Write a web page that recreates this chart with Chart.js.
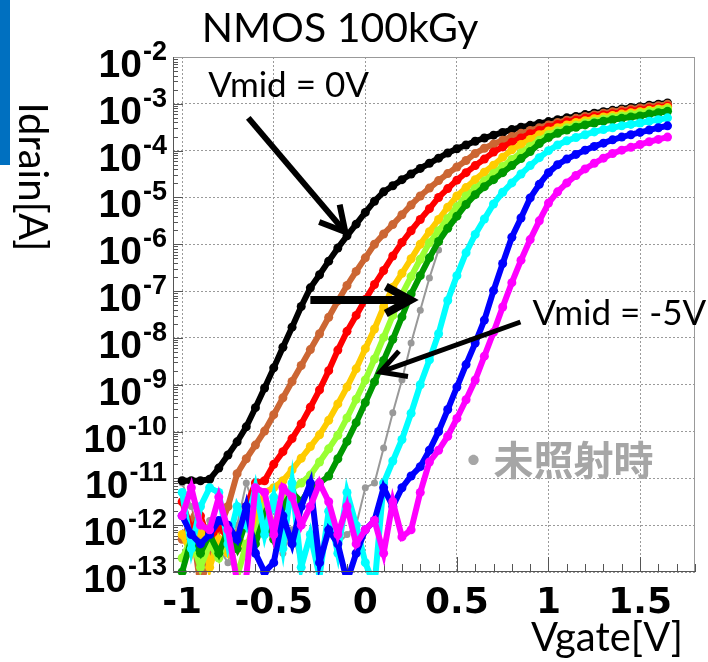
<!DOCTYPE html>
<html>
<head>
<meta charset="utf-8">
<script src="https://cdn.jsdelivr.net/npm/chart.js@4.4.1/dist/chart.umd.min.js"></script>
<style>
html,body{margin:0;padding:0;background:#fff;}
canvas{display:block;}
</style>
</head>
<body>
<canvas id="myChart" width="708" height="662"></canvas>
<script>
// Vgate [V]
var vgate = [-1, -0.95, -0.9, -0.85, -0.8, -0.75, -0.7, -0.65, -0.6, -0.55,
  -0.5, -0.45, -0.4, -0.35, -0.3, -0.25, -0.2, -0.15, -0.1, -0.05,
  0, 0.05, 0.1, 0.15, 0.2, 0.25, 0.3, 0.35, 0.4, 0.45,
  0.5, 0.55, 0.6, 0.65, 0.7, 0.75, 0.8, 0.85, 0.9, 0.95,
  1, 1.05, 1.1, 1.15, 1.2, 1.25, 1.3, 1.35, 1.4, 1.45,
  1.5, 1.55, 1.6, 1.65];

// log10(Idrain [A]), one curve per Vmid (0V ... -5V)
var logBlack = [-11.05, -11.05, -11.05, -11.02, -10.78, -10.50, -10.22, -9.90, -9.49, -9.07,
  -8.64, -8.20, -7.77, -7.33, -6.93, -6.65, -6.36, -6.08, -5.82, -5.57,
  -5.32, -5.08, -4.88, -4.75, -4.62, -4.50, -4.38, -4.27, -4.16, -4.05,
  -3.96, -3.88, -3.80, -3.73, -3.67, -3.61, -3.55, -3.50, -3.46, -3.42,
  -3.38, -3.34, -3.30, -3.27, -3.23, -3.20, -3.17, -3.14, -3.11, -3.08,
  -3.06, -3.03, -3.01, -2.98];
var logBrown = [-12.3, -11.9, -13.3, -12.6, -12.1, -11.6, -10.9, -10.58, -10.29, -9.99,
  -9.64, -9.28, -8.93, -8.59, -8.25, -7.91, -7.56, -7.21, -6.88, -6.58,
  -6.29, -6.00, -5.78, -5.58, -5.37, -5.16, -4.97, -4.80, -4.64, -4.49,
  -4.35, -4.21, -4.06, -3.95, -3.86, -3.78, -3.70, -3.63, -3.57, -3.51,
  -3.45, -3.40, -3.35, -3.31, -3.27, -3.24, -3.20, -3.17, -3.14, -3.11,
  -3.09, -3.06, -3.04, -3.01];
var logRed = [-11.5, -12.1, -11.8, -12.4, -12.0, -12.3, -12.5, -11.6, -11.1, -11.05,
  -10.70, -10.43, -10.15, -9.84, -9.48, -9.11, -8.70, -8.26, -7.86, -7.52,
  -7.18, -6.86, -6.56, -6.25, -5.96, -5.71, -5.47, -5.24, -5.00, -4.81,
  -4.63, -4.47, -4.32, -4.18, -4.03, -3.92, -3.82, -3.73, -3.64, -3.57,
  -3.50, -3.44, -3.39, -3.35, -3.31, -3.27, -3.24, -3.21, -3.18, -3.15,
  -3.13, -3.10, -3.08, -3.05];
var logOrange = [-12.2, -12.6, -12.0, -12.9, -12.3, -12.6, -12.2, -12.5, -11.9, -11.3,
  -11.2, -11.05, -10.82, -10.57, -10.32, -10.07, -9.76, -9.41, -9.05, -8.66,
  -8.23, -7.81, -7.34, -6.92, -6.62, -6.31, -6.00, -5.73, -5.47, -5.21,
  -4.97, -4.79, -4.62, -4.46, -4.31, -4.14, -3.98, -3.87, -3.76, -3.66,
  -3.58, -3.51, -3.45, -3.40, -3.36, -3.32, -3.28, -3.25, -3.22, -3.19,
  -3.17, -3.14, -3.11, -3.08];
var logLime = [-12.7, -12.3, -12.9, -12.4, -12.7, -12.2, -13.1, -12.4, -12.2, -11.6,
  -12.0, -11.4, -11.2, -11.1, -10.93, -10.65, -10.37, -10.08, -9.71, -9.31,
  -8.90, -8.45, -7.99, -7.52, -7.07, -6.69, -6.32, -5.97, -5.71, -5.45,
  -5.20, -4.97, -4.81, -4.65, -4.49, -4.34, -4.19, -4.05, -3.91, -3.78,
  -3.66, -3.58, -3.51, -3.46, -3.41, -3.37, -3.33, -3.29, -3.26, -3.23,
  -3.20, -3.17, -3.14, -3.11];
var logGreen = [-13.0, -12.3, -12.6, -12.2, -12.6, -12.1, -12.5, -11.9, -12.4, -11.8,
  -12.3, -11.6, -11.3, -11.5, -11.2, -11.1, -10.95, -10.58, -10.21, -9.81,
  -9.38, -8.94, -8.48, -8.03, -7.55, -7.06, -6.67, -6.29, -5.94, -5.66,
  -5.40, -5.15, -4.94, -4.77, -4.62, -4.47, -4.32, -4.17, -4.02, -3.85,
  -3.72, -3.63, -3.56, -3.50, -3.45, -3.41, -3.37, -3.34, -3.31, -3.28,
  -3.26, -3.22, -3.19, -3.16];
var logCyan = [-11.3, -12.5, -11.6, -11.2, -11.3, -12.4, -11.6, -12.0, -11.2, -12.2,
  -11.4, -12.5, -11.1, -12.9, -12.2, -13.1, -11.7, -12.6, -11.3, -12.0,
  -12.8, -13.3, -11.1, -10.63, -10.17, -9.61, -9.00, -8.47, -7.91, -7.20,
  -6.67, -6.18, -5.79, -5.46, -5.14, -4.89, -4.69, -4.50, -4.32, -4.15,
  -4.00, -3.88, -3.79, -3.72, -3.66, -3.60, -3.55, -3.51, -3.47, -3.44,
  -3.41, -3.37, -3.34, -3.30];
var logBlue = [-11.8, -12.2, -12.4, -12.2, -11.9, -12.0, -12.3, -11.6, -12.6, -13.0,
  -12.8, -11.8, -12.4, -11.6, -11.1, -12.8, -12.1, -12.4, -13.2, -12.6,
  -12.1, -11.9, -11.2, -11.6, -11.2, -10.95, -10.75, -10.40, -10.00, -9.53,
  -9.05, -8.57, -8.11, -7.62, -6.99, -6.41, -5.85, -5.44, -5.01, -4.72,
  -4.47, -4.30, -4.18, -4.08, -3.99, -3.91, -3.84, -3.77, -3.71, -3.66,
  -3.61, -3.56, -3.51, -3.47];
var logMagenta = [-11.8, -11.2, -12.0, -12.1, -11.4, -12.1, -13.2, -13.1, -11.2, -11.3,
  -12.2, -11.2, -11.4, -12.0, -11.6, -11.1, -11.5, -12.2, -11.6, -12.4,
  -12.1, -11.9, -12.6, -11.5, -12.25, -12.1, -11.3, -10.65, -10.40, -10.10,
  -9.72, -9.32, -8.90, -8.39, -7.88, -7.34, -6.82, -6.34, -5.90, -5.50,
  -5.12, -4.88, -4.69, -4.53, -4.39, -4.27, -4.16, -4.06, -3.99, -3.93,
  -3.87, -3.81, -3.76, -3.71];
// before irradiation (grey), visible part only
var logGray = [-11.1, -11.6, -12.3, -11.9, -12.5, -12.8, -12.0, -11.1, -11.7, -12.2,
  -11.9, -12.6, -12.1, -12.9, -12.3, -12.6, -11.9, -12.4, -12.2, -12.0,
  -11.2, -11.1, -10.35, -9.60, -8.90, -8.11, -7.41, -6.72, -6.12];

var xTicks = [-1, -0.5, 0, 0.5, 1, 1.5];
var xTickLabels = ['-1', '-0.5', '0', '0.5', '1', '1.5'];
var yExps = [-13, -12, -11, -10, -9, -8, -7, -6, -5, -4, -3, -2];

function pts(logs) {
  var out = [];
  for (var i = 0; i < logs.length; i++) out.push({x: vgate[i], y: Math.pow(10, logs[i])});
  return out;
}

var curves = [
  {label: 'Vmid=0V', d: logBlack, c: '#000000'},
  {label: 'brown', d: logBrown, c: '#CC6633'},
  {label: 'red', d: logRed, c: '#FF0000'},
  {label: 'orange', d: logOrange, c: '#FFCC00'},
  {label: 'lime', d: logLime, c: '#99FF33'},
  {label: 'green', d: logGreen, c: '#009900'},
  {label: 'cyan', d: logCyan, c: '#00FFFF'},
  {label: 'blue', d: logBlue, c: '#0000FF'},
  {label: 'Vmid=-5V', d: logMagenta, c: '#FF00FF'}
];
var datasets = curves.map(function (s, i) {
  return {label: s.label, data: pts(s.d), borderColor: s.c, backgroundColor: s.c,
    pointBackgroundColor: s.c, borderWidth: 6, pointRadius: 4.5, pointBorderWidth: 0,
    order: 10 - i, clip: 3};
});
datasets.push({label: '未照射時', data: pts(logGray), borderColor: '#999999', backgroundColor: '#999999',
  pointBackgroundColor: '#999999', borderWidth: 2, pointRadius: 3.5, pointBorderWidth: 0, order: 20, clip: 3});

// annotations, in data coords (V, log10 I)
var notes = [
  {text: 'Vmid = 0V', x: -0.858, y: -2.855},
  {text: 'Vmid = -5V', x: 0.913, y: -7.73}
];
var arrows = [
  {from: [-0.639, -3.30], to: [-0.109, -5.74], w: 6},
  {from: [-0.30, -7.19], to: [0.246, -7.19], w: 8},
  {from: [0.847, -7.66], to: [0.082, -8.73], w: 5}
];
var grayNote = {text: '・未照射時', x: 0.481, y: -10.93};

var deco = {
  id: 'deco',
  beforeDraw: function (chart) {
    var ctx = chart.ctx;
    ctx.save();
    ctx.fillStyle = '#0070C0';
    ctx.fillRect(0, 0, 10, 165);
    ctx.restore();
  },
  beforeDatasetsDraw: function (chart) {
    var ctx = chart.ctx, a = chart.chartArea, xs = chart.scales.x, ys = chart.scales.y;
    ctx.save();
    ctx.strokeStyle = '#555';
    ctx.lineWidth = 1;
    ctx.beginPath();
    for (var i = -10; i <= 18; i++) {
      var px = Math.round(xs.getPixelForValue(i / 10)) + 0.5;
      var len = (i % 5 === 0) ? 15 : 8;
      ctx.moveTo(px, a.bottom); ctx.lineTo(px, a.bottom - len);
    }
    for (var e = -13; e <= -2; e++) {
      for (var m = 1; m < 10; m++) {
        if (e === -2 && m > 1) break;
        var py = Math.round(ys.getPixelForValue(m * Math.pow(10, e))) + 0.5;
        ctx.moveTo(a.left, py); ctx.lineTo(a.left + (m === 1 ? 10 : 5), py);
      }
    }
    ctx.stroke();
    ctx.restore();
  },
  afterDraw: function (chart) {
    var ctx = chart.ctx, a = chart.chartArea, xs = chart.scales.x, ys = chart.scales.y;
    ctx.save();
    // frame
    ctx.lineWidth = 1;
    ctx.strokeStyle = '#999';
    ctx.beginPath();
    ctx.moveTo(a.left, a.top + 0.5); ctx.lineTo(a.right - 0.5, a.top + 0.5); ctx.lineTo(a.right - 0.5, a.bottom);
    ctx.stroke();
    ctx.strokeStyle = '#555';
    ctx.beginPath();
    ctx.moveTo(a.left + 0.5, a.top); ctx.lineTo(a.left + 0.5, a.bottom - 0.5); ctx.lineTo(a.right, a.bottom - 0.5);
    ctx.stroke();

    // y tick labels 10^n
    ctx.fillStyle = '#000';
    ctx.textBaseline = 'alphabetic';
    yExps.forEach(function (e) {
      var py = ys.getPixelForValue(Math.pow(10, e));
      var sup = String(e);
      ctx.font = 'bold 27px "Liberation Sans"';
      var sw = ctx.measureText(sup).width;
      ctx.textAlign = 'left';
      ctx.fillText(sup, a.left - 6 - sw, py + 3);
      ctx.font = 'bold 39px "Liberation Sans"';
      ctx.textAlign = 'right';
      ctx.fillText('10', a.left - 7 - sw, py + 20);
    });

    // titles
    ctx.font = '41px Lato';
    ctx.textAlign = 'center';
    ctx.fillText('NMOS 100kGy', 340, 42);
    ctx.font = '40px Lato';
    ctx.textAlign = 'right';
    ctx.fillText('Vgate[V]', 683, 651);
    ctx.save();
    ctx.translate(32, 177);
    ctx.rotate(Math.PI / 2);
    ctx.textAlign = 'center';
    ctx.textBaseline = 'middle';
    ctx.fillText('Idrain[A]', 0, 0);
    ctx.restore();

    // notes and arrows
    ctx.font = '35px Lato';
    ctx.textAlign = 'left';
    notes.forEach(function (n) {
      ctx.fillText(n.text, xs.getPixelForValue(n.x), ys.getPixelForValue(Math.pow(10, n.y)));
    });
    ctx.strokeStyle = '#000';
    arrows.forEach(function (ar) {
      var x0 = xs.getPixelForValue(ar.from[0]), y0 = ys.getPixelForValue(Math.pow(10, ar.from[1]));
      var x1 = xs.getPixelForValue(ar.to[0]), y1 = ys.getPixelForValue(Math.pow(10, ar.to[1]));
      var ang = Math.atan2(y1 - y0, x1 - x0), L = 28, h = 0.5;
      ctx.lineWidth = ar.w;
      ctx.beginPath();
      ctx.moveTo(x0, y0); ctx.lineTo(x1, y1);
      ctx.stroke();
      ctx.beginPath();
      ctx.moveTo(x1 - L * Math.cos(ang - h), y1 - L * Math.sin(ang - h));
      ctx.lineTo(x1, y1);
      ctx.lineTo(x1 - L * Math.cos(ang + h), y1 - L * Math.sin(ang + h));
      ctx.stroke();
    });
    ctx.fillStyle = '#A6A6A6';
    ctx.font = 'bold 40px "Noto Sans CJK JP"';
    ctx.fillText(grayNote.text, xs.getPixelForValue(grayNote.x), ys.getPixelForValue(Math.pow(10, grayNote.y)));
    ctx.restore();
  }
};

var ctx = document.getElementById('myChart');
var chart = new Chart(ctx, {
  type: 'line',
  data: {datasets: datasets},
  options: {
    responsive: false,
    animation: false,
    devicePixelRatio: 1,
    layout: {padding: {top: 57, right: 13, left: 0, bottom: 0}},
    plugins: {legend: {display: false}, tooltip: {enabled: false}, title: {display: false}},
    scales: {
      x: {
        type: 'linear', min: -1.05, max: 1.8,
        afterBuildTicks: function (s) { s.ticks = xTicks.map(function (v) { return {value: v}; }); },
        afterFit: function (s) { s.height = 90; },
        grid: {color: '#9a9a9a', drawTicks: false},
        border: {display: false, dash: [2, 2]},
        ticks: {padding: 10, color: '#000', maxRotation: 0, autoSkip: false,
          font: {family: 'DejaVu Sans', size: 36, weight: 'bold'},
          callback: function (v, i) { return xTickLabels[i]; }}
      },
      y: {
        type: 'logarithmic', min: 1e-13, max: 1e-2,
        afterBuildTicks: function (s) { s.ticks = yExps.map(function (e) { return {value: Math.pow(10, e), major: true}; }); },
        afterFit: function (s) { s.width = 173; },
        grid: {color: '#9a9a9a', drawTicks: false},
        border: {display: false, dash: [2, 2]},
        ticks: {display: false}
      }
    }
  },
  plugins: [deco]
});
</script>
</body>
</html>
